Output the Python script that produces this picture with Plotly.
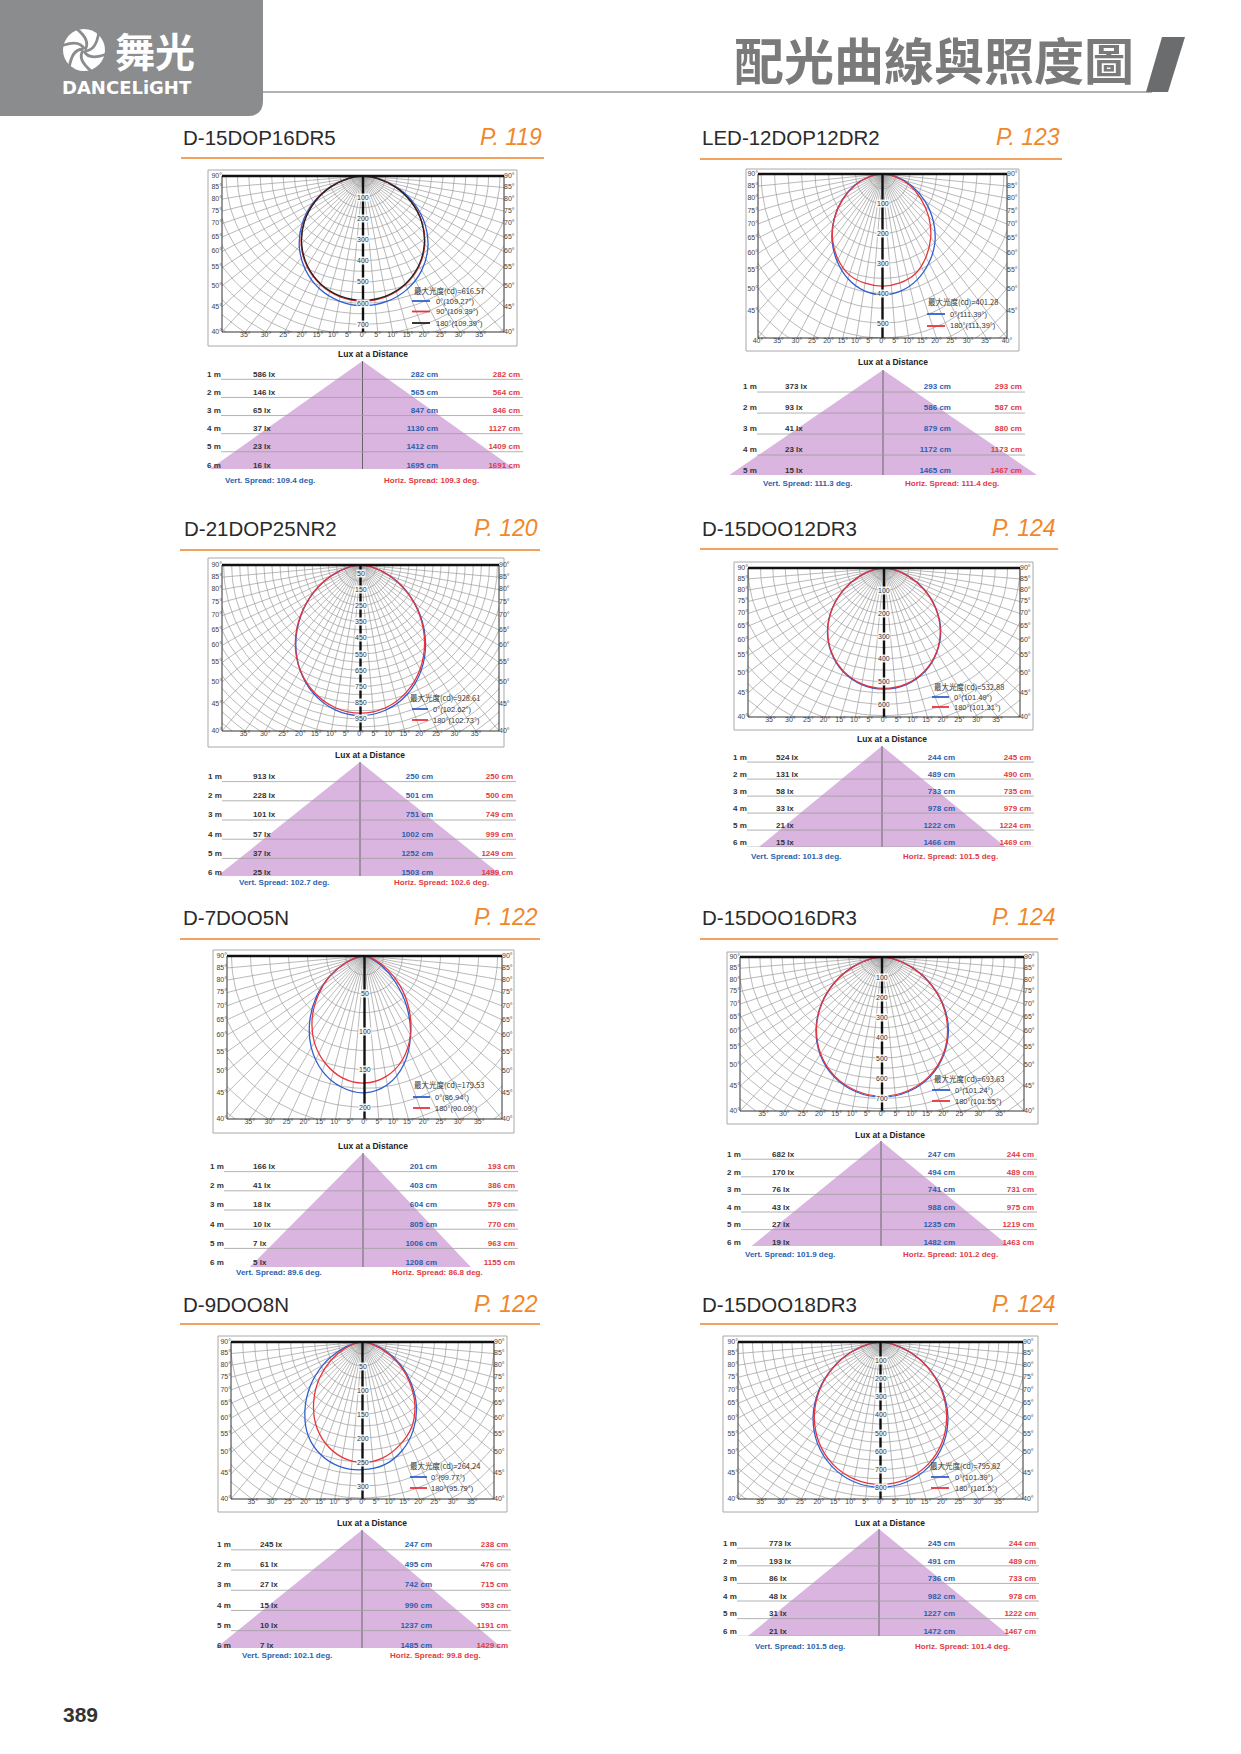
import math
import plotly.graph_objects as go

PAGE_W, PAGE_H = 1241, 1754

# ---------------- shared tick labels ----------------
ANGLES = [-90, -80, -70, -60, -50, -40, -30, -20, -10, 0, 10, 20, 30, 40, 50, 60, 70, 80, 90]
SIDE_TICKS = [90, 85, 80, 75, 70, 65, 60, 55, 50, 45, 40]
BOTTOM_TICKS = [-35, -30, -25, -20, -15, -10, -5, 0, 5, 10, 15, 20, 25, 30, 35]
BOTTOM_TICKS_WIDE = [-40, -35, -30, -25, -20, -15, -10, -5, 0, 5, 10, 15, 20, 25, 30, 35, 40]

# ---------------- panel 1 ----------------
P1_MODEL = "D-15DOP16DR5"
P1_PAGE = "P. 119"
P1_MAX_CD = "616.57"
P1_RINGS = [100, 200, 300, 400, 500, 600, 700]
P1_C0 = [0, 66, 155, 252, 347, 434, 507, 564, 599, 612, 601, 568, 514, 442, 355, 258, 160, 69, 0]
P1_C90 = [0, 64, 152, 245, 337, 421, 492, 545, 579, 590, 579, 545, 492, 421, 337, 245, 152, 64, 0]
P1_C180 = [0, 63, 150, 243, 335, 418, 488, 542, 575, 586, 575, 542, 488, 418, 335, 243, 150, 63, 0]
P1_LEGEND = ["0°(109.27°)", "90°(109.39°)", "180°(109.39°)"]
P1_DIST = [1, 2, 3, 4, 5, 6]
P1_LUX = [586, 146, 65, 37, 23, 16]
P1_VERT_CM = [282, 565, 847, 1130, 1412, 1695]
P1_HORIZ_CM = [282, 564, 846, 1127, 1409, 1691]
P1_SPREAD = [109.4, 109.3]

# ---------------- panel 2 ----------------
P2_MODEL = "LED-12DOP12DR2"
P2_PAGE = "P. 123"
P2_MAX_CD = "401.28"
P2_RINGS = [100, 200, 300, 400, 500]
P2_C0 = [0, 48, 109, 172, 234, 291, 337, 374, 397, 405, 398, 377, 344, 302, 246, 182, 115, 51, 0]
P2_C180 = [0, 46, 106, 170, 233, 288, 330, 360, 372, 376, 371, 356, 322, 278, 224, 163, 104, 45, 0]
P2_LEGEND = ["0°(111.39°)", "180°(111.39°)"]
P2_DIST = [1, 2, 3, 4, 5]
P2_LUX = [373, 93, 41, 23, 15]
P2_VERT_CM = [293, 586, 879, 1172, 1465]
P2_HORIZ_CM = [293, 587, 880, 1173, 1467]
P2_SPREAD = [111.3, 111.4]

# ---------------- panel 3 ----------------
P3_MODEL = "D-21DOP25NR2"
P3_PAGE = "P. 120"
P3_MAX_CD = "928.61"
P3_RINGS = [50, 150, 250, 350, 450, 550, 650, 750, 850, 950]
P3_C0 = [0, 70, 190, 333, 482, 625, 750, 847, 908, 930, 909, 849, 753, 628, 485, 335, 192, 71, 0]
P3_C180 = [0, 71, 192, 337, 486, 630, 749, 838, 895, 915, 895, 835, 741, 619, 478, 330, 189, 70, 0]
P3_LEGEND = ["0°(102.62°)", "180°(102.73°)"]
P3_DIST = [1, 2, 3, 4, 5, 6]
P3_LUX = [913, 228, 101, 57, 37, 25]
P3_VERT_CM = [250, 501, 751, 1002, 1252, 1503]
P3_HORIZ_CM = [250, 500, 749, 999, 1249, 1499]
P3_SPREAD = [102.7, 102.6]

# ---------------- panel 4 ----------------
P4_MODEL = "D-15DOO12DR3"
P4_PAGE = "P. 124"
P4_MAX_CD = "532.88"
P4_RINGS = [100, 200, 300, 400, 500, 600]
P4_C0 = [0, 37, 105, 186, 272, 356, 428, 485, 521, 533, 521, 485, 428, 357, 273, 187, 105, 37, 0]
P4_C180 = [0, 37, 104, 185, 271, 354, 426, 482, 518, 530, 518, 482, 426, 354, 271, 185, 104, 37, 0]
P4_LEGEND = ["0°(101.49°)", "180°(101.31°)"]
P4_DIST = [1, 2, 3, 4, 5, 6]
P4_LUX = [524, 131, 58, 33, 21, 15]
P4_VERT_CM = [244, 489, 733, 978, 1222, 1466]
P4_HORIZ_CM = [245, 490, 735, 979, 1224, 1469]
P4_SPREAD = [101.3, 101.5]

# ---------------- panel 5 ----------------
P5_MODEL = "D-7DOO5N"
P5_PAGE = "P. 122"
P5_MAX_CD = "179.53"
P5_RINGS = [50, 100, 150, 200]
P5_C0 = [0, 8, 26, 52, 82, 112, 140, 162, 176, 181, 173, 152, 121, 86, 52, 26, 9, 1, 0]
P5_C180 = [0, 9, 27, 52, 79, 107, 132, 151, 164, 168, 162, 146, 121, 91, 61, 34, 14, 3, 0]
P5_LEGEND = ["0°(86.94°)", "180°(90.09°)"]
P5_DIST = [1, 2, 3, 4, 5, 6]
P5_LUX = [166, 41, 18, 10, 7, 5]
P5_VERT_CM = [201, 403, 604, 805, 1006, 1208]
P5_HORIZ_CM = [193, 386, 579, 770, 963, 1155]
P5_SPREAD = [89.6, 86.8]

# ---------------- panel 6 ----------------
P6_MODEL = "D-15DOO16DR3"
P6_PAGE = "P. 124"
P6_MAX_CD = "693.63"
P6_RINGS = [100, 200, 300, 400, 500, 600, 700]
P6_C0 = [0, 49, 136, 242, 354, 462, 557, 631, 677, 693, 677, 631, 557, 465, 357, 242, 136, 49, 0]
P6_C180 = [0, 48, 135, 240, 352, 459, 553, 626, 672, 688, 672, 626, 553, 459, 352, 240, 135, 48, 0]
P6_LEGEND = ["0°(101.24°)", "180°(101.55°)"]
P6_DIST = [1, 2, 3, 4, 5, 6]
P6_LUX = [682, 170, 76, 43, 27, 19]
P6_VERT_CM = [247, 494, 741, 988, 1235, 1482]
P6_HORIZ_CM = [244, 489, 731, 975, 1219, 1463]
P6_SPREAD = [101.9, 101.2]

# ---------------- panel 7 ----------------
P7_MODEL = "D-9DOO8N"
P7_PAGE = "P. 122"
P7_MAX_CD = "264.24"
P7_RINGS = [50, 100, 150, 200, 250, 300]
P7_C0 = [0, 17, 50, 95, 142, 187, 226, 251, 264, 266, 260, 241, 212, 175, 132, 89, 49, 17, 0]
P7_C180 = [0, 12, 39, 76, 117, 158, 196, 225, 244, 251, 245, 228, 205, 170, 127, 83, 42, 13, 0]
P7_LEGEND = ["0°(99.77°)", "180°(95.79°)"]
P7_DIST = [1, 2, 3, 4, 5, 6]
P7_LUX = [245, 61, 27, 15, 10, 7]
P7_VERT_CM = [247, 495, 742, 990, 1237, 1485]
P7_HORIZ_CM = [238, 476, 715, 953, 1191, 1429]
P7_SPREAD = [102.1, 99.8]

# ---------------- panel 8 ----------------
P8_MODEL = "D-15DOO18DR3"
P8_PAGE = "P. 124"
P8_MAX_CD = "795.82"
P8_RINGS = [100, 200, 300, 400, 500, 600, 700, 800]
P8_C0 = [0, 56, 156, 278, 407, 532, 641, 725, 779, 797, 779, 725, 641, 532, 407, 278, 156, 56, 0]
P8_C180 = [0, 55, 153, 273, 400, 522, 629, 712, 764, 782, 764, 712, 629, 522, 400, 273, 153, 55, 0]
P8_LEGEND = ["0°(101.39°)", "180°(101.5°)"]
P8_DIST = [1, 2, 3, 4, 5, 6]
P8_LUX = [773, 193, 86, 48, 31, 21]
P8_VERT_CM = [245, 491, 736, 982, 1227, 1472]
P8_HORIZ_CM = [244, 489, 733, 978, 1222, 1467]
P8_SPREAD = [101.5, 101.4]

PAGE_NUMBER = "389"
HEADER_TITLE = "配光曲線與照度圖"

BLUE, RED, BLACK = "#2f5fd0", "#e8343a", "#222222"
TXT_BLUE, TXT_RED = "#2b5fae", "#e23a3f"

PANELS = [
    dict(model=P1_MODEL, page=P1_PAGE, maxcd=P1_MAX_CD, rings=P1_RINGS,
         curves=[(P1_C0, BLUE), (P1_C90, RED), (P1_C180, BLACK)], legend=P1_LEGEND,
         dist=P1_DIST, lux=P1_LUX, vcm=P1_VERT_CM, hcm=P1_HORIZ_CM, spread=P1_SPREAD),
    dict(model=P2_MODEL, page=P2_PAGE, maxcd=P2_MAX_CD, rings=P2_RINGS,
         curves=[(P2_C0, BLUE), (P2_C180, RED)], legend=P2_LEGEND,
         dist=P2_DIST, lux=P2_LUX, vcm=P2_VERT_CM, hcm=P2_HORIZ_CM, spread=P2_SPREAD),
    dict(model=P3_MODEL, page=P3_PAGE, maxcd=P3_MAX_CD, rings=P3_RINGS,
         curves=[(P3_C0, BLUE), (P3_C180, RED)], legend=P3_LEGEND,
         dist=P3_DIST, lux=P3_LUX, vcm=P3_VERT_CM, hcm=P3_HORIZ_CM, spread=P3_SPREAD),
    dict(model=P4_MODEL, page=P4_PAGE, maxcd=P4_MAX_CD, rings=P4_RINGS,
         curves=[(P4_C0, BLUE), (P4_C180, RED)], legend=P4_LEGEND,
         dist=P4_DIST, lux=P4_LUX, vcm=P4_VERT_CM, hcm=P4_HORIZ_CM, spread=P4_SPREAD),
    dict(model=P5_MODEL, page=P5_PAGE, maxcd=P5_MAX_CD, rings=P5_RINGS,
         curves=[(P5_C0, BLUE), (P5_C180, RED)], legend=P5_LEGEND,
         dist=P5_DIST, lux=P5_LUX, vcm=P5_VERT_CM, hcm=P5_HORIZ_CM, spread=P5_SPREAD),
    dict(model=P6_MODEL, page=P6_PAGE, maxcd=P6_MAX_CD, rings=P6_RINGS,
         curves=[(P6_C0, BLUE), (P6_C180, RED)], legend=P6_LEGEND,
         dist=P6_DIST, lux=P6_LUX, vcm=P6_VERT_CM, hcm=P6_HORIZ_CM, spread=P6_SPREAD),
    dict(model=P7_MODEL, page=P7_PAGE, maxcd=P7_MAX_CD, rings=P7_RINGS,
         curves=[(P7_C0, BLUE), (P7_C180, RED)], legend=P7_LEGEND,
         dist=P7_DIST, lux=P7_LUX, vcm=P7_VERT_CM, hcm=P7_HORIZ_CM, spread=P7_SPREAD),
    dict(model=P8_MODEL, page=P8_PAGE, maxcd=P8_MAX_CD, rings=P8_RINGS,
         curves=[(P8_C0, BLUE), (P8_C180, RED)], legend=P8_LEGEND,
         dist=P8_DIST, lux=P8_LUX, vcm=P8_VERT_CM, hcm=P8_HORIZ_CM, spread=P8_SPREAD),
]

# ---------------- page geometry (pixels) ----------------
GEOM = [
    dict(title=(181, 137), page_r=544, line=(181, 544, 158),
         outer=(208, 170, 517, 346), inner=(222, 176, 504, 332), R=736, step=50, wide=False,
         legend=dict(x=412, y=290, ys=[301, 311.5, 323], l0=412, l1=430, tx=434),
         apex=(362.5, 361), base_y=469, row1_y=375, sp=18.1, lux_title=(373, 354),
         cols=(207, 253, 438, 520), spread_xy=(480, 223, 382)),
    dict(title=(700, 137), page_r=1062, line=(700, 1062, 159),
         outer=(746, 169, 1019, 351), inner=(758, 174, 1007, 338), R=550, step=50, wide=True,
         legend=dict(x=926, y=302, ys=[314, 326], l0=927, l1=945, tx=948),
         apex=(883, 370), base_y=475, row1_y=387, sp=21, lux_title=(893, 362),
         cols=(743, 785, 951, 1022), spread_xy=(484, 761, 903)),
    dict(title=(182, 528), page_r=540, line=(180, 540, 550),
         outer=(208, 558, 504, 747), inner=(222, 565, 499, 731), R=1025, step=50, wide=False,
         legend=dict(x=408, y=697, ys=[709, 720], l0=412, l1=428, tx=431),
         apex=(360, 762), base_y=876, row1_y=777, sp=19.2, lux_title=(370, 755),
         cols=(208, 253, 433, 513), spread_xy=(882, 237, 392)),
    dict(title=(700, 528), page_r=1058, line=(700, 1058, 549),
         outer=(734, 562, 1033, 730), inner=(748, 568, 1020, 717), R=656, step=50, wide=False,
         legend=dict(x=932, y=686, ys=[697, 707], l0=932, l1=949, tx=952),
         apex=(882, 746), base_y=847, row1_y=758, sp=17, lux_title=(892, 739),
         cols=(733, 776, 955, 1031), spread_xy=(856, 749, 901)),
    dict(title=(181, 917), page_r=540, line=(180, 540, 939),
         outer=(213, 950, 514, 1133), inner=(227, 956, 502, 1119), R=215.6, step=25, wide=False,
         legend=dict(x=412, y=1084, ys=[1097, 1108], l0=413, l1=430, tx=433),
         apex=(363, 1153), base_y=1267, row1_y=1167, sp=19.2, lux_title=(373, 1146),
         cols=(210, 253, 437, 515), spread_xy=(1272, 234, 390)),
    dict(title=(700, 917), page_r=1058, line=(700, 1058, 939),
         outer=(727, 952, 1038, 1124), inner=(740, 957, 1024, 1111), R=762, step=50, wide=False,
         legend=dict(x=932, y=1078, ys=[1090, 1101], l0=932, l1=950, tx=953),
         apex=(881, 1141), base_y=1246, row1_y=1155, sp=17.6, lux_title=(890, 1135),
         cols=(727, 772, 955, 1034), spread_xy=(1254, 743, 901)),
    dict(title=(181, 1304), page_r=540, line=(180, 540, 1324),
         outer=(218, 1336, 507, 1512), inner=(231, 1342, 494, 1499), R=327, step=25, wide=False,
         legend=dict(x=408, y=1465, ys=[1477, 1488], l0=410, l1=427, tx=429),
         apex=(362, 1530), base_y=1648, row1_y=1545, sp=20.2, lux_title=(372, 1523),
         cols=(217, 260, 432, 508), spread_xy=(1655, 240, 388)),
    dict(title=(700, 1304), page_r=1058, line=(700, 1058, 1324),
         outer=(723, 1336, 1038, 1512), inner=(738, 1342, 1023, 1499), R=862, step=50, wide=False,
         legend=dict(x=928, y=1465, ys=[1477, 1488], l0=931, l1=949, tx=953),
         apex=(879, 1529), base_y=1636, row1_y=1544, sp=17.6, lux_title=(890, 1523),
         cols=(723, 769, 955, 1036), spread_xy=(1646, 753, 913)),
]

FONT = "Liberation Sans, Arial, sans-serif"
CJK = "Noto Sans CJK TC, Noto Sans CJK SC, sans-serif"


def fx(px):
    return px / PAGE_W


def fy(py):
    return 1 - py / PAGE_H


def rad(d):
    return math.radians(d)


fig = go.Figure()
layout = dict(width=PAGE_W, height=PAGE_H, margin=dict(l=0, r=0, t=0, b=0),
              paper_bgcolor="white", plot_bgcolor="rgba(0,0,0,0)", showlegend=False)
shapes, annotations = [], []


def ann(x, y, text, size, color, xanchor="left", family=FONT, weight="normal", style="normal",
        xref="paper", yref="paper", bg=None, yanchor="middle"):
    d = dict(x=x, y=y, xref=xref, yref=yref, text=text, showarrow=False, xanchor=xanchor,
             yanchor=yanchor, font=dict(size=size, color=color, family=family, weight=weight, style=style))
    if bg:
        d.update(bgcolor=bg, borderpad=0)
    annotations.append(d)


T40 = math.tan(rad(40))

for i, (p, g) in enumerate(zip(PANELS, GEOM)):
    a, b = 2 * i + 1, 2 * i + 2
    xa = "x" if a == 1 else f"x{a}"
    ya = "y" if a == 1 else f"y{a}"
    xb, yb = f"x{b}", f"y{b}"
    ka = "" if a == 1 else str(a)

    # ---- title, page ref, orange rule ----
    ann(fx(g["title"][0]), fy(g["title"][1]), p["model"], 20.5, "#2a2a2a")
    ann(fx(g["page_r"]), fy(g["title"][1]), p["page"], 23, "#f0882a", xanchor="right", style="italic")
    shapes.append(dict(type="line", xref="paper", yref="paper", x0=fx(g["line"][0]), x1=fx(g["line"][1]),
                       y0=fy(g["line"][2]), y1=fy(g["line"][2]), line=dict(color="#f3a35f", width=2)))

    # ---- polar chart (downward half plane) ----
    R = g["R"]
    Xmax = R * T40
    L, T, Rr, B = g["inner"]
    layout[f"xaxis{ka}"] = dict(domain=[fx(L), fx(Rr)], range=[-Xmax, Xmax], visible=False,
                                fixedrange=True, anchor=ya)
    layout[f"yaxis{ka}"] = dict(domain=[fy(B), fy(T)], range=[-R, 0], visible=False,
                                fixedrange=True, anchor=xa)
    ox0, oy0, ox1, oy1 = g["outer"]
    shapes.append(dict(type="rect", xref="paper", yref="paper", x0=fx(ox0), x1=fx(ox1), y0=fy(oy1),
                       y1=fy(oy0), line=dict(color="#a8a8a8", width=1), fillcolor="rgba(0,0,0,0)",
                       layer="below"))

    gx, gy = [], []
    r = g["step"]
    rmax = R / math.cos(rad(40)) * 1.05
    while r <= rmax:
        for t in range(-90, 91, 2):
            gx.append(r * math.sin(rad(t)))
            gy.append(-r * math.cos(rad(t)))
        gx.append(None)
        gy.append(None)
        r += g["step"]
    for t in range(-85, 90, 5):
        if t == 0:
            continue
        gx += [0, 2 * R * math.sin(rad(t)), None]
        gy += [0, -2 * R * math.cos(rad(t)), None]
    fig.add_trace(go.Scatter(x=gx, y=gy, mode="lines", line=dict(color="#9c9c9c", width=0.7),
                             hoverinfo="skip", xaxis=xa, yaxis=ya))

    for vals, col in p["curves"]:
        cx = [v * math.sin(rad(t)) for v, t in zip(vals, ANGLES)]
        cy = [-v * math.cos(rad(t)) for v, t in zip(vals, ANGLES)]
        fig.add_trace(go.Scatter(x=cx, y=cy, mode="lines", line=dict(color=col, width=1.3, shape="spline",
                                 smoothing=1.0), xaxis=xa, yaxis=ya))

    # center axis, frame
    shapes.append(dict(type="line", xref=xa, yref=ya, x0=0, x1=0, y0=0, y1=-R,
                       line=dict(color="#111", width=2.4)))
    shapes.append(dict(type="rect", xref=f"{xa} domain", yref=f"{ya} domain", x0=0, x1=1, y0=0, y1=1,
                       line=dict(color="#333", width=1)))
    shapes.append(dict(type="line", xref=f"{xa} domain", yref=f"{ya} domain", x0=0, x1=1, y0=1, y1=1,
                       line=dict(color="#111", width=2.4)))

    side = [t for t in SIDE_TICKS if not (g["wide"] and t == 40)]
    sy = [-R if t == 40 else -Xmax * math.cos(rad(t)) / math.sin(rad(t)) for t in side]
    stext = [f"{t}°" for t in side]
    tick_font = dict(size=7, color="#444", family=FONT)
    fig.add_trace(go.Scatter(x=[-Xmax] * len(side), y=sy, text=stext, mode="text", textposition="middle left",
                             textfont=tick_font, cliponaxis=False, xaxis=xa, yaxis=ya, hoverinfo="skip"))
    fig.add_trace(go.Scatter(x=[Xmax] * len(side), y=sy, text=stext, mode="text", textposition="middle right",
                             textfont=tick_font, cliponaxis=False, xaxis=xa, yaxis=ya, hoverinfo="skip"))
    bt = BOTTOM_TICKS_WIDE if g["wide"] else BOTTOM_TICKS
    fig.add_trace(go.Scatter(x=[R * math.tan(rad(t)) for t in bt], y=[-R] * len(bt),
                             text=[f"{abs(t)}°" for t in bt], mode="text", textposition="bottom center",
                             textfont=tick_font, cliponaxis=False, xaxis=xa, yaxis=ya, hoverinfo="skip"))

    for rv in p["rings"]:
        ann(0, -rv, str(rv), 7, "#333", xanchor="center", xref=xa, yref=ya, bg="rgba(255,255,255,0.9)")

    lg = g["legend"]
    ann(fx(lg["x"]), fy(lg["y"]), f"最大光度(cd)={p['maxcd']}", 7.5, "#333", family=CJK)
    for (vals, col), lab, ey in zip(p["curves"], p["legend"], lg["ys"]):
        shapes.append(dict(type="line", xref="paper", yref="paper", x0=fx(lg["l0"]), x1=fx(lg["l1"]),
                           y0=fy(ey), y1=fy(ey), line=dict(color=col, width=1.8)))
        ann(fx(lg["tx"]), fy(ey), lab, 7.5, "#333")

    # ---- lux at a distance ----
    sp = g["sp"]
    apx, apy = g["apex"]
    by, r1 = g["base_y"], g["row1_y"]

    def dm(py, r1=r1, sp=sp):
        return 1 + (py - r1) / sp

    def mm(px, apx=apx, sp=sp):
        return (px - apx) / sp

    vs, hs = p["spread"]
    Hm = dm(by) - dm(apy)
    left_m = -Hm * math.tan(rad(vs / 2))
    right_m = Hm * math.tan(rad(hs / 2))
    c_dist, c_lux, c_blue, c_red = g["cols"]
    tabL = min(c_dist - 3, apx + left_m * sp)
    tabR = max(c_red + 6, apx + right_m * sp)
    layout[f"xaxis{b}"] = dict(domain=[fx(tabL), fx(tabR)], range=[mm(tabL), mm(tabR)], visible=False,
                               fixedrange=True, anchor=yb)
    layout[f"yaxis{b}"] = dict(domain=[fy(by), fy(apy)], range=[dm(by), dm(apy)], visible=False,
                               fixedrange=True, anchor=xb)

    fig.add_trace(go.Scatter(x=[0, left_m, right_m, 0], y=[dm(apy), dm(by), dm(by), dm(apy)], mode="lines",
                             fill="toself", fillcolor="#d9b5df", line=dict(width=0), hoverinfo="skip",
                             xaxis=xb, yaxis=yb))
    shapes.append(dict(type="line", xref=xb, yref=yb, x0=0, x1=0, y0=dm(apy), y1=dm(by),
                       line=dict(color="#666", width=1)))
    for dv in p["dist"]:
        shapes.append(dict(type="line", xref=xb, yref=yb, x0=mm(c_dist + 14), x1=mm(c_red + 3),
                           y0=dv + 0.24, y1=dv + 0.24, line=dict(color="#a0a0a0", width=0.8)))

    tf = dict(size=8, family=FONT, weight="bold")
    n = len(p["dist"])
    fig.add_trace(go.Scatter(x=[mm(c_dist)] * n, y=p["dist"], text=[f"{d} m" for d in p["dist"]],
                             mode="text", textposition="middle right", textfont=dict(tf, color="#333"),
                             cliponaxis=False, xaxis=xb, yaxis=yb, hoverinfo="skip"))
    fig.add_trace(go.Scatter(x=[mm(c_lux)] * n, y=p["dist"], text=[f"{v} lx" for v in p["lux"]],
                             mode="text", textposition="middle right", textfont=dict(tf, color="#333"),
                             cliponaxis=False, xaxis=xb, yaxis=yb, hoverinfo="skip"))
    fig.add_trace(go.Scatter(x=[mm(c_blue)] * n, y=p["dist"], text=[f"{v} cm" for v in p["vcm"]],
                             mode="text", textposition="middle left", textfont=dict(tf, color=TXT_BLUE),
                             cliponaxis=False, xaxis=xb, yaxis=yb, hoverinfo="skip"))
    fig.add_trace(go.Scatter(x=[mm(c_red)] * n, y=p["dist"], text=[f"{v} cm" for v in p["hcm"]],
                             mode="text", textposition="middle left", textfont=dict(tf, color=TXT_RED),
                             cliponaxis=False, xaxis=xb, yaxis=yb, hoverinfo="skip"))

    ann(fx(g["lux_title"][0]), fy(g["lux_title"][1]), "Lux at a Distance", 8.5, "#222",
        xanchor="center", weight="bold")
    s_y, s_vx, s_hx = g["spread_xy"]
    ann(fx(s_vx), fy(s_y), f"Vert. Spread: {vs} deg.", 8, TXT_BLUE, weight="bold")
    ann(fx(s_hx), fy(s_y), f"Horiz. Spread: {hs} deg.", 8, TXT_RED, weight="bold")

# ---------------- page header ----------------
def P(x, y):
    return f"{fx(x):.5f},{fy(y):.5f}"


shapes.append(dict(type="path", xref="paper", yref="paper",
                   path=f"M {P(0, 0)} L {P(263, 0)} L {P(263, 101)} Q {P(263, 116)} {P(248, 116)} "
                        f"L {P(0, 116)} Z", fillcolor="#8b8c8e", line=dict(width=0), layer="below"))
shapes.append(dict(type="line", xref="paper", yref="paper", x0=fx(263), x1=fx(1152), y0=fy(92), y1=fy(92),
                   line=dict(color="#9a9a9a", width=1.5)))
shapes.append(dict(type="path", xref="paper", yref="paper",
                   path=f"M {P(1162, 37)} L {P(1185, 37)} L {P(1168, 92)} L {P(1146, 92)} Z",
                   fillcolor="#6b6c6e", line=dict(width=0)))

# logo mark: white ball with curved slits
LCX, LCY, LR = 84, 50, 21
shapes.append(dict(type="circle", xref="paper", yref="paper", x0=fx(LCX - LR), x1=fx(LCX + LR),
                   y0=fy(LCY + LR), y1=fy(LCY - LR), fillcolor="white", line=dict(width=0)))
for k in range(6):
    a0 = math.radians(k * 60 + 15)
    pts = []
    for rr, da in ((1, 0), (12, 38), (LR + 2, 95)):
        pts.append((LCX + rr * math.cos(a0 + math.radians(da)), LCY - rr * math.sin(a0 + math.radians(da))))
    shapes.append(dict(type="path", xref="paper", yref="paper",
                       path=f"M {P(*pts[0])} Q {P(*pts[1])} {P(*pts[2])}",
                       line=dict(color="#8b8c8e", width=2.8)))

ann(fx(113), fy(50), "舞光", 40, "white", family=CJK, weight="bold")
ann(fx(60), fy(87), "DANCELiGHT", 18, "white", family="DejaVu Sans, sans-serif", weight="bold")
ann(fx(1136), fy(58), HEADER_TITLE, 50, "#7a7a7a", xanchor="right", family=CJK, weight="bold")
ann(fx(61), fy(1714), PAGE_NUMBER, 21, "#333", weight="bold")

layout["shapes"] = shapes
layout["annotations"] = annotations
fig.update_layout(**layout)
fig.write_html("out.html", config={"displayModeBar": False, "staticPlot": True},
               post_script="document.body.style.margin='0';")
